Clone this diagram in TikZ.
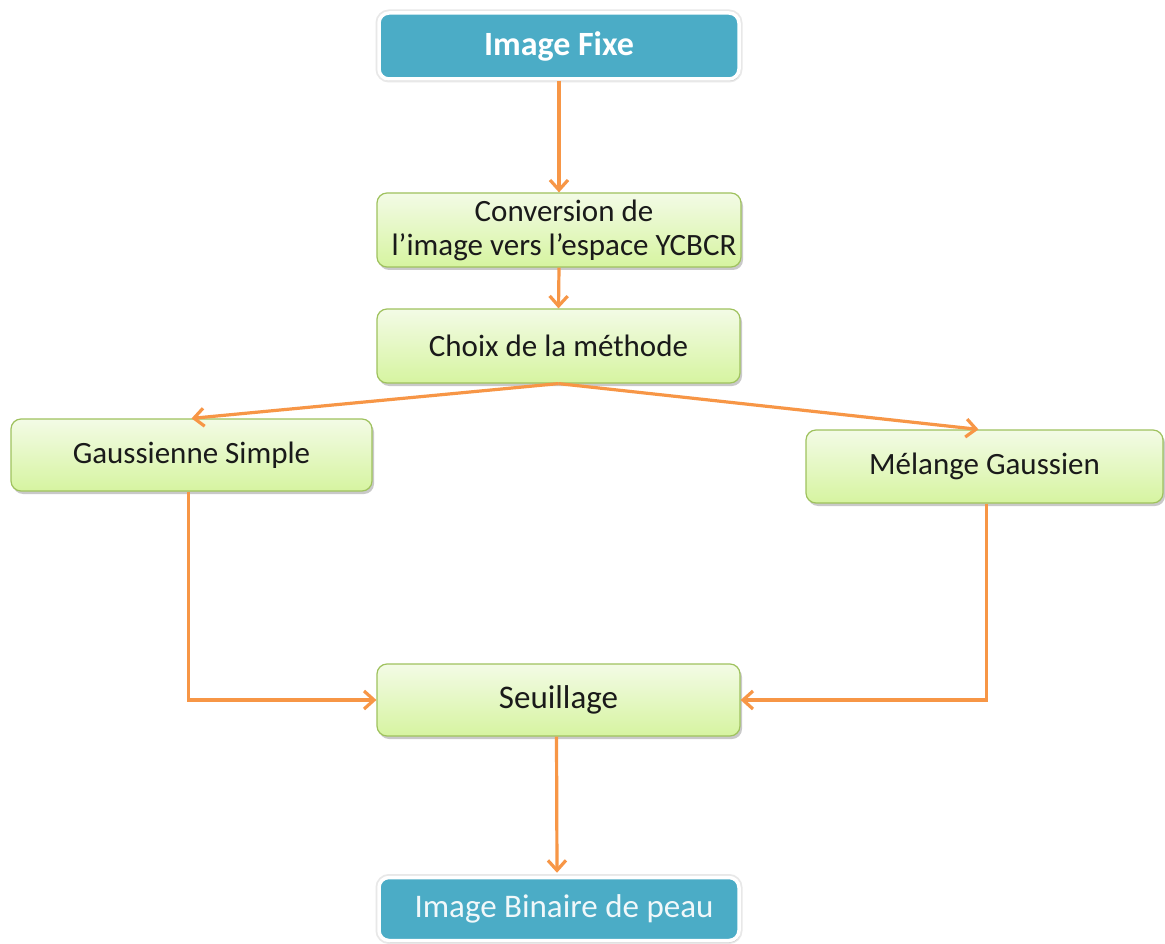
\documentclass[tikz,border=0pt]{standalone}
\usepackage{fontspec}
\setmainfont{Carlito}
\usetikzlibrary{arrows.meta,shadows}
\definecolor{teal1}{HTML}{4BACC6}
\definecolor{gtop}{HTML}{F3FBE6}
\definecolor{gbot}{HTML}{D6F4A0}
\definecolor{gborder}{HTML}{9FC25E}
\definecolor{orng}{HTML}{F79646}
\definecolor{txt}{HTML}{1A1A1A}
\tikzset{
  greenbox/.style={draw=gborder, line width=1.2pt, rounded corners=10pt,
    top color=gtop, bottom color=gbot, text=txt, align=center,
    font=\fontsize{31}{34}\selectfont,
    drop shadow={shadow xshift=2pt, shadow yshift=-3pt, opacity=0.35, fill=black!60}},
  tealbox/.style={draw=white, line width=3.5pt, rounded corners=10pt,
    fill=teal1, text=white, align=center,
    preaction={draw=black!9, line width=7pt},
    font=\fontsize{33}{34}\selectfont,
    drop shadow={shadow xshift=1pt, shadow yshift=-2pt, opacity=0.25, fill=black!60}},
  flow/.style={draw=orng, line width=3.2pt, -{Straight Barb[length=10pt,width=18pt,line width=3.2pt]}}
}
\begin{document}
\begin{tikzpicture}[x=1pt,y=-1pt]
\useasboundingbox[fill=white] (0,0) rectangle (1165,944);
\node[tealbox, minimum width=360pt, minimum height=66pt, font=\fontsize{34}{34}\selectfont] (fixe) at (559,46) {\textbf{Image Fixe}};
\node[greenbox, minimum width=364pt, minimum height=74pt] (conv) at (559,230) {\hspace*{10pt}Conversion de\\ \hspace*{10pt}l’image vers l’espace YCBCR};
\node[greenbox, minimum width=363pt, minimum height=74pt] (choix) at (558.5,346) {Choix de la méthode};
\node[greenbox, minimum width=361pt, minimum height=72pt] (gs) at (191.5,455) {Gaussienne Simple};
\node[greenbox, minimum width=357pt, minimum height=73pt] (mg) at (984.5,466.5) {Mélange Gaussien};
\node[greenbox, minimum width=363pt, minimum height=72pt, font=\fontsize{33}{36}\selectfont] (seuil) at (558.5,700) {Seuillage};
\node[tealbox, minimum width=360pt, minimum height=63pt, text=white!92!teal1] (bin) at (559,909) {\hspace*{10pt}Image Binaire de peau};
\draw[flow] (fixe.south) -- (conv.north);
\draw[flow] (conv.south) -- (choix.north);
\draw[flow] (choix.south) -- (gs.north);
\draw[flow] (choix.south) -- ([xshift=-6pt]mg.north);
\draw[flow] ([xshift=-3pt]gs.south) |- (seuil.west);
\draw[flow] ([xshift=2pt]mg.south) |- (seuil.east);
\draw[flow] ([xshift=-2pt]seuil.south) -- ([xshift=-2pt,yshift=3pt]bin.north);
\end{tikzpicture}
\end{document}
